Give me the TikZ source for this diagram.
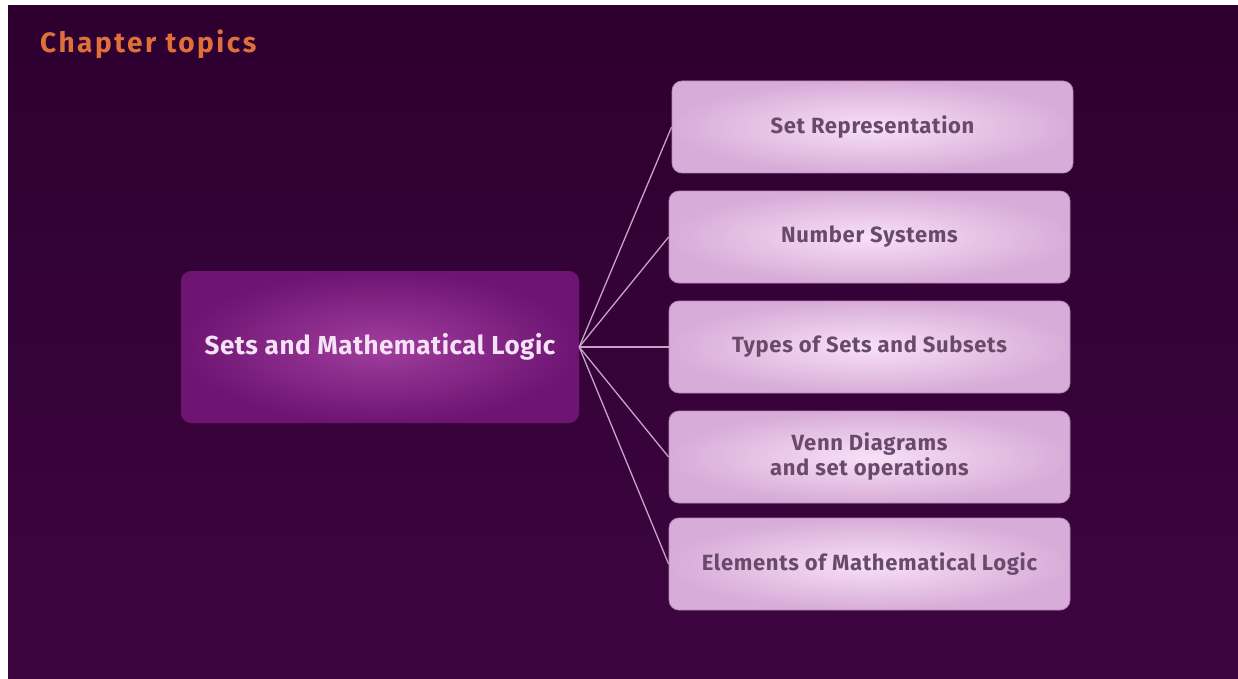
\documentclass[tikz,border=0pt]{standalone}
\usepackage{fontspec}
\setmainfont{Fira Sans}
\usepackage{tikz}
\usetikzlibrary{positioning}

\definecolor{bgtop}{HTML}{2D0030}
\definecolor{bgbot}{HTML}{3D0540}
\definecolor{titleorange}{HTML}{E0703A}
\definecolor{mainin}{HTML}{A03E9E}
\definecolor{mainout}{HTML}{6E1472}
\definecolor{maintext}{HTML}{F6E2F6}
\definecolor{boxin}{HTML}{F8E0F7}
\definecolor{boxout}{HTML}{D8ACD8}
\definecolor{boxline}{HTML}{B486B6}
\definecolor{boxtext}{HTML}{6A4A6C}
\definecolor{linkcol}{HTML}{C8A2C8}

\begin{document}
\begin{tikzpicture}[x=1pt, y=-1pt,
    topic/.style={rectangle, rounded corners=10pt, draw=boxline, line width=0.8pt,
        inner color=boxin, outer color=boxout, minimum width=401pt, minimum height=92pt,
        text=boxtext, align=center,
        font=\fontsize{22}{25}\selectfont\bfseries\addfontfeature{LetterSpace=3}},
    mainbox/.style={rectangle, rounded corners=10pt, inner color=mainin, outer color=mainout,
        minimum width=398pt, minimum height=152pt, text=maintext,
        font=\fontsize{26}{30}\selectfont\bfseries\addfontfeature{LetterSpace=2}},
    link/.style={draw=linkcol, line width=1.3pt}]

    % Background
    \fill[white] (0,0) rectangle (1238,679);
    \useasboundingbox (0,0) rectangle (1238,679);
    \fill[top color=bgtop, bottom color=bgbot] (8,6) rectangle (1238,679);

    % Title
    \node[anchor=base west, inner sep=0pt, text=titleorange,
        font=\fontsize{28}{32}\selectfont\bfseries\addfontfeature{LetterSpace=9}] (title) at (40,53) {Chapter topics};

    % Centre topic
    \node[mainbox] (sets) at (380,347) {Sets and Mathematical Logic};

    % Sub topics
    \node[topic] (setrep) at (872.5,127) {Set Representation};
    \node[topic] (numsys) at (869.5,237) {Number Systems};
    \node[topic] (types) at (869.5,347) {Types of Sets and Subsets};
    \node[topic] (venn) at (869.5,457) {Venn Diagrams\\and set operations};
    \node[topic] (logic) at (869.5,564) {Elements of Mathematical Logic};

    % Links
    \foreach \t in {setrep, numsys, types, venn, logic}
        \draw[link] (sets.east) -- (\t.west);
\end{tikzpicture}
\end{document}
